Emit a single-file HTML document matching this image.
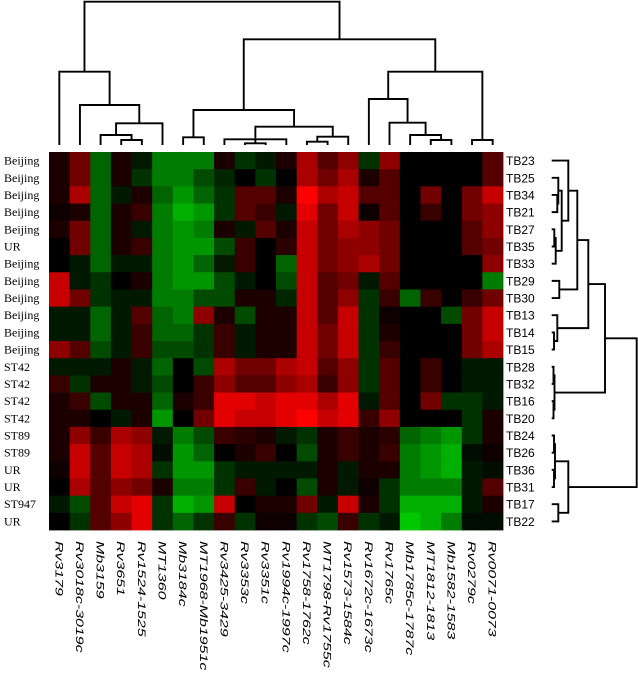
<!DOCTYPE html>
<html><head><meta charset="utf-8"><style>
html,body{margin:0;padding:0;background:#fff;}
svg{display:block;}
</style></head><body>
<svg id="chart" width="638" height="676" viewBox="0 0 638 676" xmlns="http://www.w3.org/2000/svg">
<g id="top-dendro" stroke="#000" stroke-width="1.9" fill="none"></g>
<g id="right-dendro" stroke="#000" stroke-width="1.9" fill="none"></g>
<g id="cells"></g>
<g id="row-left" font-family="Liberation Serif, serif" font-size="12" fill="#000"></g>
<g id="row-right" font-family="Liberation Sans, sans-serif" font-size="12" fill="#000"></g>
<g id="col-labels" font-family="Liberation Sans, sans-serif" font-size="11" font-style="italic" fill="#000"></g>
</svg>
<script>
const columns = ["Rv3179","Rv3018c-3019c","Mb3159","Rv3651","Rv1524-1525","MT1360","Mb3184c","MT1968-Mb1951c","Rv3425-3429","Rv3353c","Rv3351c","Rv1994c-1997c","Rv1758-1762c","MT1798-Rv1755c","Rv1573-1584c","Rv1672c-1673c","Rv1765c","Mb1785c-1787c","MT1812-1813","Mb1582-1583","Rv0279c","Rv0071-0073"];
const rowIds = ["TB23","TB25","TB34","TB21","TB27","TB35","TB33","TB29","TB30","TB13","TB14","TB15","TB28","TB32","TB16","TB20","TB24","TB26","TB36","TB31","TB17","TB22"];
const rowGroups = ["Beijing","Beijing","Beijing","Beijing","Beijing","UR","Beijing","Beijing","Beijing","Beijing","Beijing","Beijing","ST42","ST42","ST42","ST42","ST89","ST89","UR","UR","ST947","UR"];
const values = [
[1,4,-4,1,-1,-5,-5,-5,1,-2,-1,1,6,3,5,-2,5,0,0,0,0,3],
[1,4,-4,1,-2,-5,-5,-3,-1.5,0,-2,0,6,4,6,1,3,0,0,0,0,3],
[1,6,-4,-1,1,-4,-6,-4,-2,3,3,1,9,6,7,3,3,0,4,0,4,7],
[0.5,1,-4,1,2,-5,-7,-6,-2,3,2,-1,8,4,7,0.5,3,0,2,0,4,5],
[1,4,-4,1,-1,-5,-6,-5,1,-1,3,1,7,4,6,5,4,0,0,0,3,5],
[0,4,-4,1,2,-5,-6,-6,-3,2,0,1.5,7,4,5,5,4,0,0,0,3,4],
[0,-1,-4,-1,-1,-5,-6,-4,-1,2,0,-4,7,4,5,6,4,0,0,0,0,5],
[7,-1,-2,0,1,-5,-6,-6,-3,-1,0,-3,7,3,4,-1,3,0,0,0,0,-5],
[7,4,-2,-1,-1,-5,-5,-3,-3,1,1,-1.5,7,3,5,-2,2,-4,2,0,2,4],
[-1,-1,-4,-1,3,-4,-5,5,1,-3,1,1,7,3,7,-2,0.5,0,0,-3,4,7],
[-1,-1,-4,-1,2,-4,-4,-2,2,-1,1,1,7,4,7,-2,1,0,0,0,4,7],
[5,3,-3,-1,2,-3,-3,-2,2,-1,1,1,7,4,7,-2,2,0,0,0,4,6],
[-1,-1,-1,1,-1,-4,0,-3,6,4,4,6,7,3,5,-2,3,0,2,0,-1,-1],
[2,-2,1,1,-1,-3,0,2,5,3,3,5,6,2,5,-2,3,0,2,0,-1,-1],
[1,2,-3,1,1,-4,1,2,8,8,7,8,8,6,8,-1,3,0,4,-2,-2,-1],
[1,1,0,-1,1,-6,0,4,8,7,7,8,9,7,8,2,5,0,0,0,-2,1],
[1,5,2,6,5,-1,-5,-3,2,1.5,1,-1,-2,1,2,1,1.5,-4,-5,-6,-2,1],
[1,7,3,7,6,-0.5,-6,-4,0,1,2,0,-3,1,2,1,2,-5,-6,-7,-0.5,0.5],
[0.5,7,3,7,6,-2,-6,-6,-2,-1,-1,-1,-1,1,-1,1,1,-5,-6,-7,-1,-0.5],
[0,6,3,5,4,1,-5,-5,-2,2,-1,0,-3,1,-1,0.5,-2,-5,-5,-5,-1,3],
[-1,-3,3,7,8,-2,-7,-6,7,0,1,1,4,-1,7,1,-2,-7,-7,-7,-1,1],
[0,-2,3,5,8,-2,-4,-2,2,-2,0.5,0.5,-2,-3,2,-2,-1,-8,-7,-5,-0.5,-0.5]
];
const colMerges = [[3,4,140],[2,"n0",135],["n1",5,123.3],[1,"n2",105],[0,"n3",71.7],[6,7,137.3],[9,10,143.3],[8,11,139.3],["n6","n7",137.7],[12,13,141.7],[14,"n9",136.7],["n8","n10",126.7],["n5","n11",110],[18,19,140],[17,"n13",135],[16,"n14",122.7],[15,"n15",99],[20,21,140],["n16","n17",71.7],["n12","n18",39.3],["n4","n19",1.7]];
const rowMerges = [[2,3,557.3],[1,"n0",558.3],[4,5,554.3],["n2",6,555.7],["n1","n3",561.7],[0,"n4",568.3],[7,8,559.3],["n5","n6",577.3],[10,11,554],[9,"n8",557.3],["n7","n9",588.3],[12,13,553.5],[14,15,553.5],["n11","n12",554.5],["n10","n13",605],[16,17,554],[18,19,554],["n15","n16",555],[20,21,558.3],["n17","n18",568.3],["n14","n19",636.7]];

const NS = "http://www.w3.org/2000/svg";
const X0 = 49, Y0 = 152, CW = 454 / 22, CH = 378 / 22;
function xScale(i){ return X0 + CW * i; }
function yScale(j){ return Y0 + CH * j; }
function color(v){
  if (v >= 0) return "rgb(" + Math.min(255, Math.round(v / 9 * 255)) + ",0,0)";
  return "rgb(0," + Math.min(230, Math.round(-v / 9 * 225)) + ",0)";
}
const cells = document.getElementById("cells");
values.forEach(function(row, r){
  row.forEach(function(v, c){
    const rect = document.createElementNS(NS, "rect");
    rect.setAttribute("x", xScale(c));
    rect.setAttribute("y", yScale(r));
    rect.setAttribute("width", CW + 0.4);
    rect.setAttribute("height", CH + 0.4);
    rect.setAttribute("fill", color(v));
    
    
    cells.appendChild(rect);
  });
});
const rl = document.getElementById("row-left");
rowGroups.forEach(function(g, r){
  const t = document.createElementNS(NS, "text");
  t.setAttribute("x", 4);
  t.setAttribute("y", yScale(r) + CH / 2 + 4);
  t.textContent = g;
  
  
  rl.appendChild(t);
});
const rr = document.getElementById("row-right");
rowIds.forEach(function(g, r){
  const t = document.createElementNS(NS, "text");
  t.setAttribute("x", 506);
  t.setAttribute("y", yScale(r) + CH / 2 + 4.5);
  t.textContent = g;
  
  
  rr.appendChild(t);
});
const cl = document.getElementById("col-labels");
columns.forEach(function(c, i){
  const t = document.createElementNS(NS, "text");
  const cx = xScale(i) + CW / 2 - 4;
  t.setAttribute("transform", "translate(" + cx + ",541) rotate(90) scale(1.45,1)");
  t.textContent = c;
  
  
  cl.appendChild(t);
});
function drawDendro(merges, gid, leafPos, leafH, vertical){
  const g = document.getElementById(gid);
  const nodes = [];
  function get(k){
    if (typeof k === "number") return {p: leafPos(k), h: leafH};
    return nodes[parseInt(k.slice(1))];
  }
  merges.forEach(function(m){
    const a = get(m[0]), b = get(m[1]), h = m[2];
    const path = document.createElementNS(NS, "path");
    let d;
    if (vertical) d = "M" + a.p + "," + a.h + "V" + h + "H" + b.p + "V" + b.h;
    else d = "M" + a.h + "," + a.p + "H" + h + "V" + b.p + "H" + b.h;
    path.setAttribute("d", d);
    
    
    g.appendChild(path);
    nodes.push({p: (a.p + b.p) / 2, h: h});
  });
}
drawDendro(colMerges, "top-dendro", function(i){ return xScale(i) + CW / 2; }, 145, true);
drawDendro(rowMerges, "right-dendro", function(j){ return yScale(j) + CH / 2; }, 551.7, false);
</script>
</body></html>
